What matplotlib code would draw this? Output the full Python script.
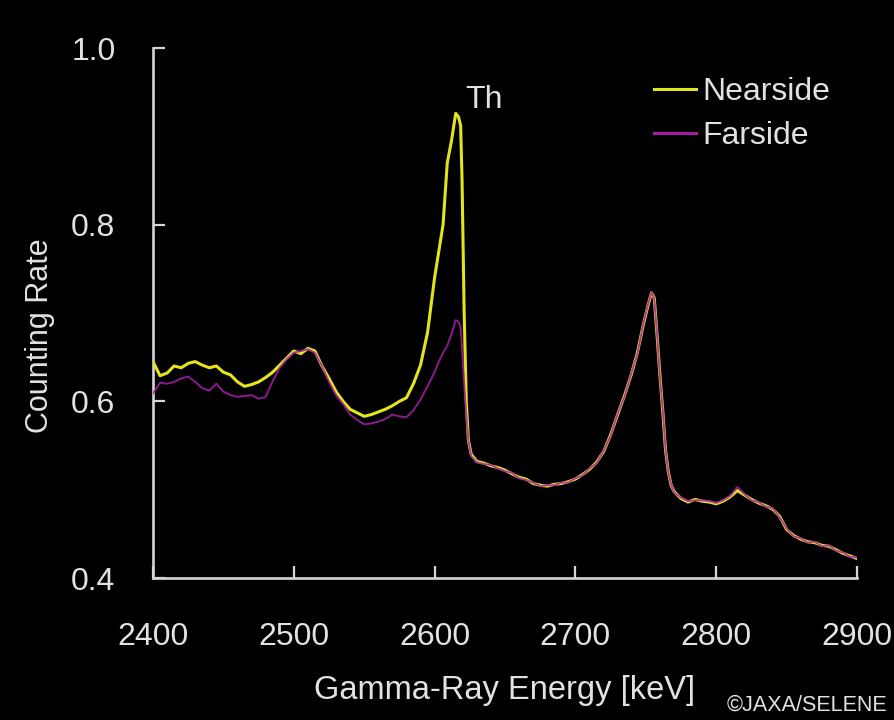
import matplotlib
matplotlib.use("Agg")
import matplotlib.pyplot as plt

plt.rcParams['font.family'] = ['Liberation Sans', 'DejaVu Sans']

energy = [2400, 2405, 2410, 2415, 2420, 2425, 2430, 2435, 2440, 2445,
          2450, 2455, 2460, 2465, 2470, 2475, 2480, 2485, 2490, 2495,
          2500, 2505, 2510, 2515, 2520, 2525, 2530, 2535, 2540, 2545,
          2550, 2555, 2560, 2565, 2570, 2575, 2580, 2585, 2590, 2595,
          2600, 2603, 2606, 2609, 2612, 2615, 2617, 2618.5, 2619.5, 2621,
          2622.5, 2624, 2626, 2630, 2635, 2640, 2645, 2650, 2655, 2660,
          2665, 2670, 2675, 2680, 2685, 2690, 2695, 2700, 2705, 2710,
          2715, 2720, 2725, 2730, 2735, 2740, 2744, 2748, 2751, 2754,
          2756, 2758, 2760, 2762, 2764, 2766, 2768, 2770, 2775, 2780,
          2785, 2790, 2795, 2800, 2805, 2810, 2815, 2820, 2825, 2830,
          2835, 2840, 2845, 2850, 2855, 2860, 2865, 2870, 2875, 2880,
          2885, 2890, 2895, 2900]

nearside = [0.645, 0.629, 0.632, 0.640, 0.638, 0.643, 0.645, 0.641, 0.638, 0.640,
            0.633, 0.630, 0.622, 0.617, 0.619, 0.622, 0.627, 0.633, 0.641, 0.649,
            0.657, 0.654, 0.660, 0.657, 0.640, 0.626, 0.611, 0.600, 0.591, 0.587,
            0.583, 0.585, 0.588, 0.591, 0.595, 0.600, 0.604, 0.620, 0.641, 0.678,
            0.740, 0.770, 0.800, 0.870, 0.895, 0.926, 0.922, 0.912, 0.850, 0.700,
            0.600, 0.556, 0.540, 0.532, 0.530, 0.527, 0.525, 0.522, 0.518, 0.514,
            0.512, 0.507, 0.505, 0.504, 0.506, 0.507, 0.509, 0.512, 0.517, 0.523,
            0.531, 0.543, 0.562, 0.585, 0.607, 0.632, 0.655, 0.685, 0.705, 0.723,
            0.717, 0.675, 0.630, 0.590, 0.545, 0.520, 0.505, 0.498, 0.490, 0.486,
            0.489, 0.487, 0.486, 0.484, 0.487, 0.492, 0.499, 0.494, 0.489, 0.485,
            0.482, 0.478, 0.470, 0.455, 0.448, 0.444, 0.441, 0.440, 0.437, 0.436,
            0.432, 0.428, 0.425, 0.422]

farside = [0.609, 0.621, 0.620, 0.622, 0.626, 0.628, 0.622, 0.615, 0.612, 0.620,
           0.611, 0.607, 0.605, 0.606, 0.607, 0.603, 0.605, 0.623, 0.638, 0.648,
           0.655, 0.657, 0.659, 0.655, 0.640, 0.622, 0.607, 0.597, 0.585, 0.579,
           0.574, 0.575, 0.577, 0.580, 0.585, 0.583, 0.582, 0.590, 0.602, 0.617,
           0.633, 0.645, 0.655, 0.663, 0.676, 0.692, 0.690, 0.684, 0.660, 0.620,
           0.585, 0.556, 0.538, 0.531, 0.529, 0.528, 0.524, 0.521, 0.519, 0.513,
           0.511, 0.508, 0.504, 0.505, 0.505, 0.508, 0.508, 0.513, 0.516, 0.524,
           0.530, 0.544, 0.561, 0.586, 0.606, 0.633, 0.654, 0.686, 0.706, 0.724,
           0.716, 0.676, 0.628, 0.591, 0.546, 0.519, 0.506, 0.497, 0.491, 0.487,
           0.488, 0.488, 0.487, 0.485, 0.488, 0.493, 0.503, 0.495, 0.488, 0.486,
           0.481, 0.479, 0.469, 0.456, 0.447, 0.445, 0.440, 0.441, 0.436, 0.437,
           0.431, 0.429, 0.424, 0.423]

x_ticks = [2400, 2500, 2600, 2700, 2800, 2900]
y_ticks = [0.4, 0.6, 0.8, 1.0]

fg = '#e2e2e2'
spine_c = '#d4d4d4'
yellow = '#e4e41c'
purple = '#a61ea8'

fig = plt.figure(figsize=(8.95, 7.2), dpi=100, facecolor='black')
ax = fig.add_axes([153/895, 1-578/720, 704/895, 530/720])
ax.set_facecolor('black')

ax.plot(energy, nearside, color=yellow, lw=2.2, label='Nearside', zorder=3)
ax.plot(energy, farside, color=purple, lw=1.4, label='Farside', zorder=4, alpha=0.85)

ax.set_xlim(2400, 2900)
ax.set_ylim(0.4, 1.0)
ax.set_xticks(x_ticks)
ax.set_yticks(y_ticks)
ax.set_yticklabels([f'{v:.1f}' for v in y_ticks])

for s in ['top', 'right']:
    ax.spines[s].set_visible(False)
for s in ['left', 'bottom']:
    ax.spines[s].set_color(spine_c)
    ax.spines[s].set_linewidth(1.9)

ax.tick_params(axis='both', direction='in', length=8.5, width=1.6, color=spine_c,
               labelcolor=fg, labelsize=23)
ax.tick_params(axis='x', pad=32)
ax.tick_params(axis='y', pad=27)

ax.set_xlabel('Gamma-Ray Energy [keV]', color=fg, fontsize=23.5)
ax.xaxis.label.set_va('center')
ax.xaxis.set_label_coords(0.499, -0.213)
ax.set_ylabel('Counting Rate', color=fg, fontsize=22)
ax.yaxis.label.set_va('center')
ax.yaxis.set_label_coords(-0.161, 0.458)

ax.text(2622, 0.941, 'Th', color=fg, fontsize=23, ha='left', va='center')

leg = ax.legend(loc='upper left', bbox_to_anchor=(654/895, 1-77/720),
                bbox_transform=fig.transFigure, frameon=False, fontsize=23,
                handlelength=1.3, handletextpad=0.2, labelspacing=0.45,
                borderpad=0, borderaxespad=0)
for t in leg.get_texts():
    t.set_color(fg)
for h in leg.get_lines():
    h.set_linewidth(2.2)
    h.set_alpha(1)

fig.text(727/895, 1-705/720, '\u00a9JAXA/SELENE', color=fg, fontsize=15.5,
         ha='left', va='center')

fig.savefig('out.png', dpi=100, facecolor='black')
